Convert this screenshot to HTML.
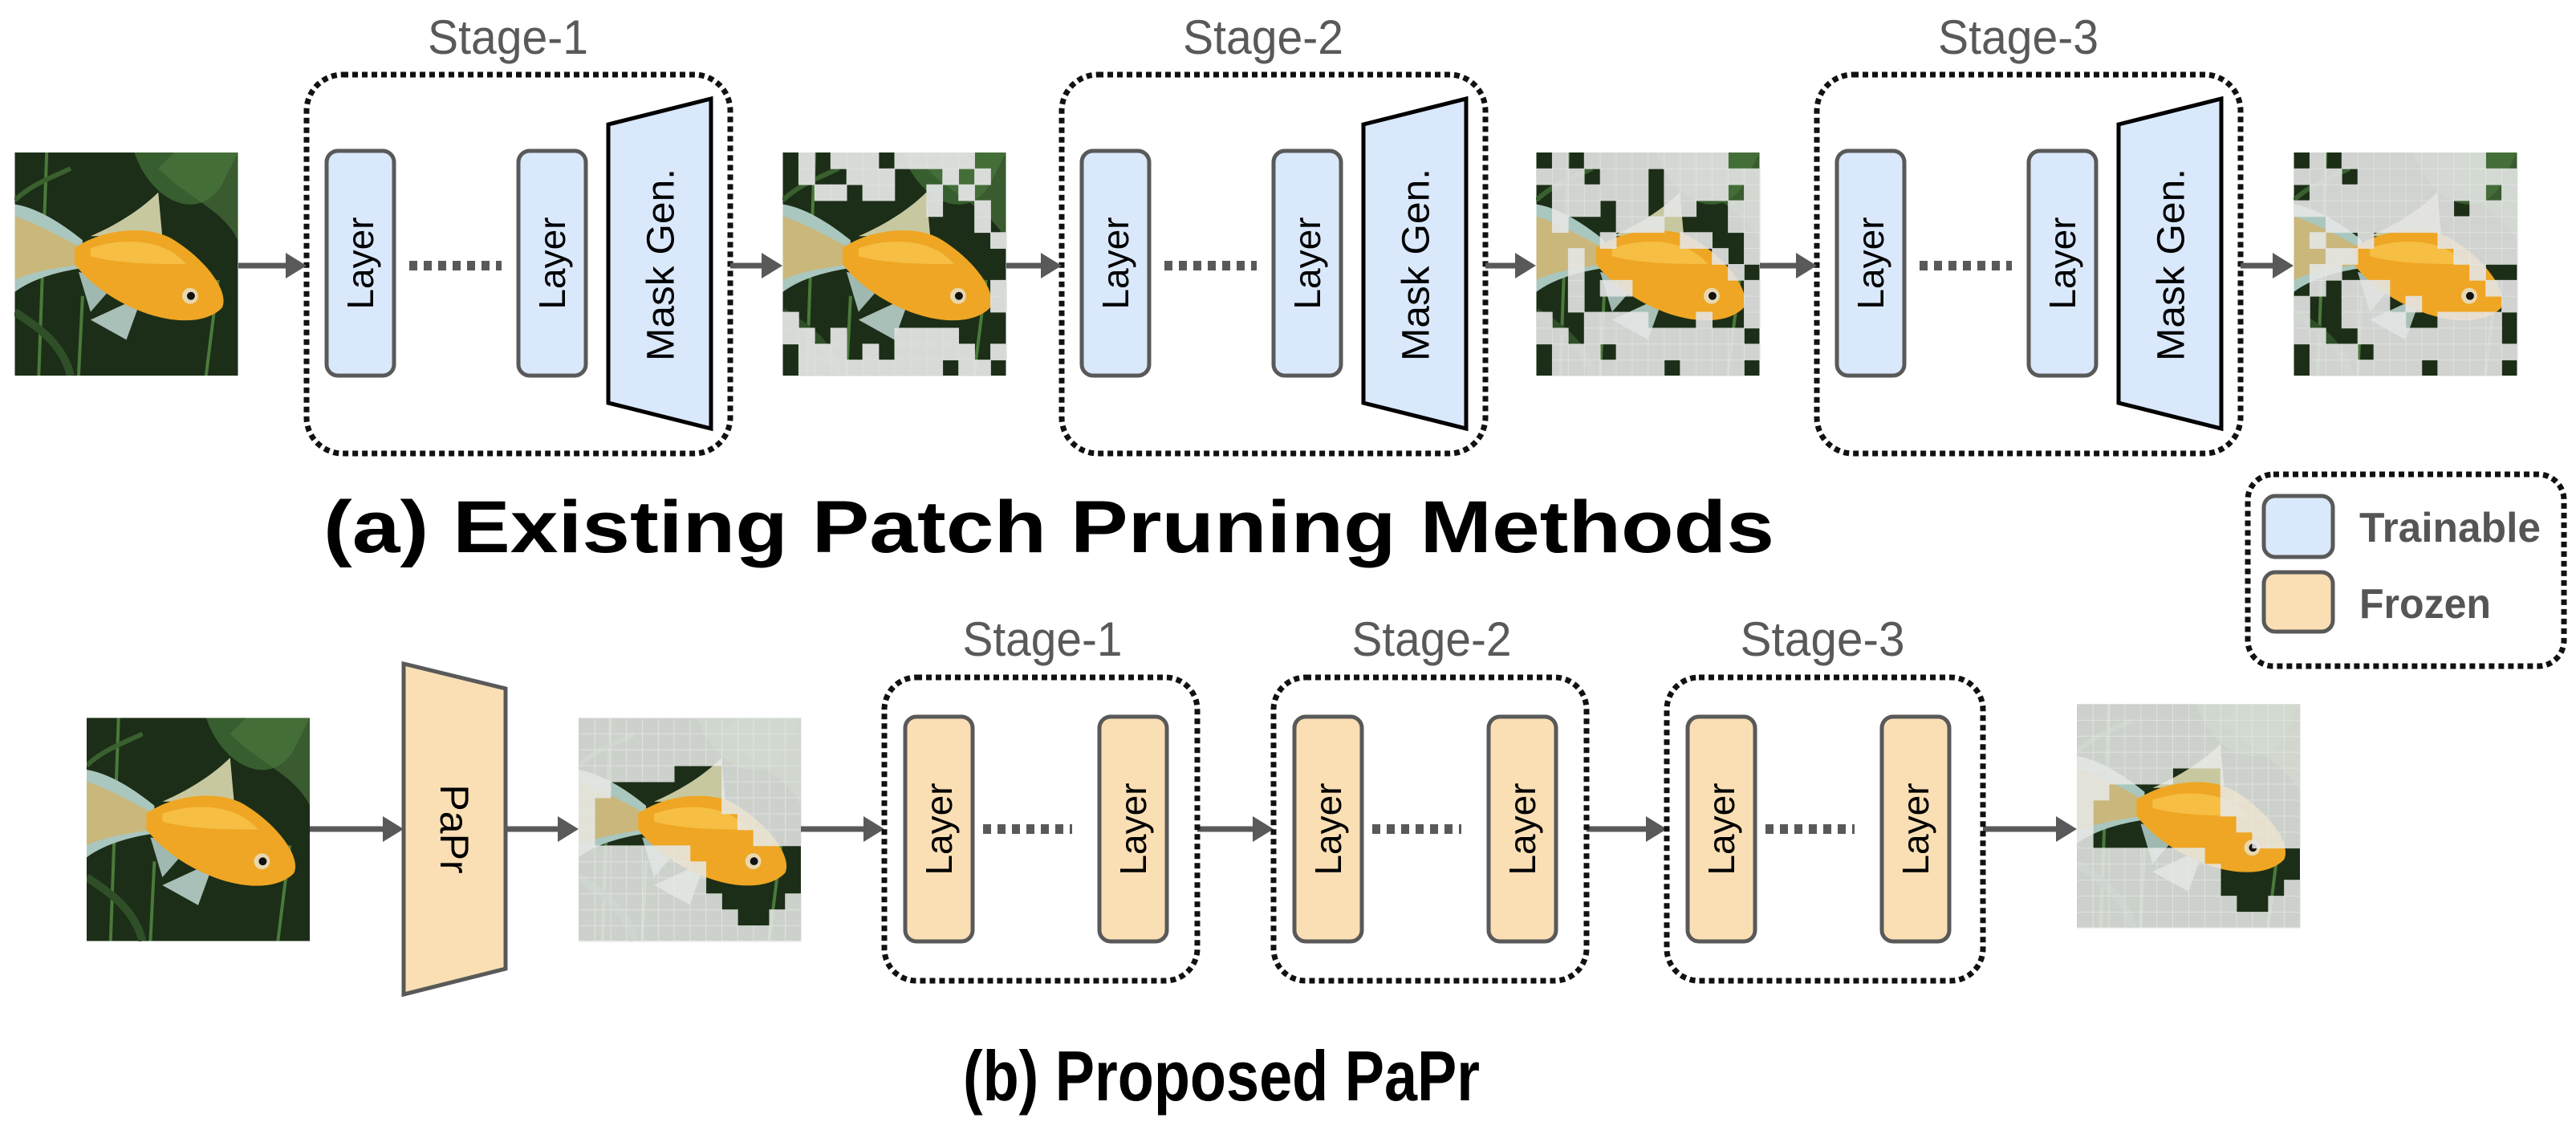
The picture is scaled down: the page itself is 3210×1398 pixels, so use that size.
<!DOCTYPE html>
<html><head><meta charset="utf-8">
<style>
html,body{margin:0;padding:0;background:#fff;}
svg{display:block;}
text{font-family:"Liberation Sans",Arial,sans-serif;}
</style></head>
<body>
<svg id="s" width="3210" height="1398" viewBox="0 0 3210 1398" xmlns="http://www.w3.org/2000/svg">
<defs>
  <symbol id="fish" viewBox="0 0 280 280">
    <rect width="280" height="280" fill="#1c2e17"/>
    <path d="M150 0 C170 60 230 90 260 40 L280 0 Z" fill="#3f6a36" opacity="0.8"/>
    <path d="M180 20 C220 60 260 70 280 110 L280 0 L200 0Z" fill="#4d7a40" opacity="0.6"/>
    <path d="M30 280 L40 0" stroke="#4a7a3a" stroke-width="4"/>
    <path d="M80 280 L85 180" stroke="#4a7a3a" stroke-width="4"/>
    <path d="M240 280 L255 160" stroke="#4a7a3a" stroke-width="4"/>
    <path d="M0 60 C20 40 50 30 70 20" stroke="#3a6030" stroke-width="6" fill="none"/>
    <path d="M0 200 C30 220 60 240 70 280" stroke="#2f4f28" stroke-width="10" fill="none"/>
    <path d="M0 65 C30 70 60 90 85 110 L85 145 C50 150 20 160 0 175 Z" fill="#a9c7bf"/>
    <path d="M0 80 C30 90 55 105 85 120 L85 140 C50 145 20 150 0 160 Z" fill="#d8b060" opacity="0.7"/>
    <path d="M95 105 C130 90 160 70 180 50 L185 105 Z" fill="#c8c8a0"/>
    <path d="M80 150 L130 160 L95 200 Z" fill="#9fb9b0"/>
    <path d="M95 210 L160 180 L140 235 Z" fill="#a8c0b8"/>
    <path d="M75 120 C110 95 170 90 200 110 C240 135 270 175 260 195 C240 215 200 215 160 200 C120 185 90 160 75 140 Z" fill="#eea624"/>
    <path d="M95 120 C140 105 190 110 215 140 C180 140 130 140 95 130Z" fill="#f7c44a" opacity="0.8"/>
    <circle cx="220" cy="180" r="10" fill="#e8d8b0"/>
    <circle cx="221" cy="180" r="5" fill="#111"/>
  </symbol>
</defs>

<g id="imgs"></g>

<g fill="none" stroke="#111" stroke-width="7" stroke-dasharray="7 5">
  <rect x="382" y="93" width="528" height="472" rx="45"/>
  <rect x="1323" y="93" width="528" height="472" rx="45"/>
  <rect x="2264" y="93" width="528" height="472" rx="45"/>
</g>

<g font-size="60" fill="#595959" text-anchor="middle">
  <text x="633" y="67" textLength="200" lengthAdjust="spacingAndGlyphs">Stage-1</text>
  <text x="1574" y="67" textLength="200" lengthAdjust="spacingAndGlyphs">Stage-2</text>
  <text x="2515" y="67" textLength="200" lengthAdjust="spacingAndGlyphs">Stage-3</text>
</g>

<g id="topstages"></g>
<g id="arrows" stroke="#595959" stroke-width="7" fill="#595959"></g>

<text x="1307" y="688" font-size="92" font-weight="bold" text-anchor="middle" textLength="1808" lengthAdjust="spacingAndGlyphs" fill="#000">(a) Existing Patch Pruning Methods</text>

<rect x="2801" y="591" width="394" height="239" rx="32" fill="none" stroke="#111" stroke-width="7" stroke-dasharray="7 5"/>
<rect x="2821" y="618" width="86" height="76" rx="14" fill="#dae8fc" stroke="#595959" stroke-width="5"/>
<rect x="2821" y="713" width="86" height="74" rx="14" fill="#fadfb5" stroke="#595959" stroke-width="5"/>
<text x="2940" y="675" font-size="52" font-weight="bold" fill="#555" textLength="226" lengthAdjust="spacingAndGlyphs">Trainable</text>
<text x="2940" y="770" font-size="52" font-weight="bold" fill="#555" textLength="164" lengthAdjust="spacingAndGlyphs">Frozen</text>

<path d="M503 827 L630 858 L630 1207 L503 1239 Z" fill="#fadfb5" stroke="#595959" stroke-width="5"/>
<text transform="translate(566,1033) rotate(90)" font-size="50" text-anchor="middle" dominant-baseline="central" fill="#000">PaPr</text>

<g fill="none" stroke="#111" stroke-width="7" stroke-dasharray="7 5">
  <rect x="1102" y="844" width="390" height="378" rx="40"/>
  <rect x="1587" y="844" width="390" height="378" rx="40"/>
  <rect x="2077" y="844" width="394" height="378" rx="40"/>
</g>
<g font-size="60" fill="#595959" text-anchor="middle">
  <text x="1299" y="817" textLength="199" lengthAdjust="spacingAndGlyphs">Stage-1</text>
  <text x="1784" y="817" textLength="199" lengthAdjust="spacingAndGlyphs">Stage-2</text>
  <text x="2271" y="817" textLength="205" lengthAdjust="spacingAndGlyphs">Stage-3</text>
</g>
<g id="botstages"></g>

<text x="1200" y="1371" font-size="88" font-weight="bold" textLength="644" lengthAdjust="spacingAndGlyphs" fill="#000">(b) Proposed PaPr</text>
</svg>

<script>
var NS="http://www.w3.org/2000/svg";
function el(parent,tag,attrs,txt){var e=document.createElementNS(NS,tag);for(var k in attrs)e.setAttribute(k,attrs[k]);if(txt)e.textContent=txt;parent.appendChild(e);return e;}
var imgs=document.getElementById('imgs');
function fishImg(x,y,w,h,grid,fill){
  el(imgs,'use',{href:'#fish',x:x,y:y,width:w,height:h,preserveAspectRatio:'none'});
  if(!grid)return;
  var cw=w/14,ch=h/14;
  for(var r=0;r<14;r++)for(var c=0;c<14;c++){
    if(grid[r][c]==='1') el(imgs,'rect',{x:(x+c*cw).toFixed(2),y:(y+r*ch).toFixed(2),width:(cw+0.8).toFixed(2),height:(ch+0.8).toFixed(2),fill:fill||'rgba(228,230,228,0.9)'});
  }
}
var g2=["01011101111100","01001110001010","00110110010100","00000000010010","00000000000010","00000000000001","00000000000000","00000000000000","00000000000001","00000000000001","10000000000000","11010001111000","01110101111101","01111111110110"];
var g3=["01011111111100","11101110111111","01111110111101","01110110110011","01000111000011","00001000011001","00100000000101","00100000000010","00101100000001","00100000000001","10011110001001","11011111111110","01110111111111","01111111011110"];
var g4=["01011111111100","11101111111111","01111111111101","11111111110111","00111111111111","01001000011111","00110000001111","01100000000100","01011100000011","10011101000001","10011110011110","11001111111110","01110111111111","01111111011110"];
function visGrid(rows){var g=[];for(var r=0;r<14;r++){var s='';for(var c=0;c<14;c++){var v=rows[r]&&c>=rows[r][0]&&c<=rows[r][1];s+=v?'0':'1';}g.push(s);}return g;}
var gb=visGrid({3:[6,8],4:[2,8],5:[1,8],6:[1,9],7:[1,10],8:[7,13],9:[8,13],10:[8,13],11:[9,12],12:[10,11]});
var gb2=visGrid({4:[6,8],5:[2,8],6:[1,8],7:[1,9],8:[1,10],9:[8,13],10:[9,13],11:[9,12],12:[10,11]});
fishImg(18,190,279,278);
fishImg(975,190,279,278,g2,'rgba(224,226,224,0.96)');
fishImg(1914,190,279,278,g3);
fishImg(2858,190,279,278,g4);
fishImg(108,894,278,279);
fishImg(721,894,277,279,gb,'rgba(230,232,230,0.88)');
fishImg(2588,877,278,279,gb2,'rgba(230,232,230,0.88)');

var ts=document.getElementById('topstages');
[382,1323,2264].forEach(function(b){
  [b+25,b+264].forEach(function(lx){
    el(ts,'rect',{x:lx,y:188,width:84,height:280,rx:14,fill:'#dae8fc',stroke:'#595959','stroke-width':5});
    el(ts,'text',{transform:'translate('+(lx+42)+',328) rotate(-90)','font-size':46,'text-anchor':'middle','dominant-baseline':'central',fill:'#000'},'Layer');
  });
  el(ts,'line',{x1:b+128,y1:331,x2:b+243,y2:331,stroke:'#595959','stroke-width':12,'stroke-dasharray':'10 8'});
  el(ts,'path',{d:'M'+(b+376)+' 155 L'+(b+504)+' 123 L'+(b+504)+' 534 L'+(b+376)+' 502 Z',fill:'#dae8fc',stroke:'#000','stroke-width':5});
  el(ts,'text',{transform:'translate('+(b+442)+',330) rotate(-90)','font-size':48,'text-anchor':'middle','dominant-baseline':'central',fill:'#000',textLength:240,lengthAdjust:'spacingAndGlyphs'},'Mask Gen.');
});
var bs=document.getElementById('botstages');
[1102,1587,2077].forEach(function(b){
  [b+26,b+268].forEach(function(lx){
    el(bs,'rect',{x:lx,y:893,width:84,height:280,rx:14,fill:'#fadfb5',stroke:'#595959','stroke-width':5});
    el(bs,'text',{transform:'translate('+(lx+42)+',1033) rotate(-90)','font-size':46,'text-anchor':'middle','dominant-baseline':'central',fill:'#000'},'Layer');
  });
  el(bs,'line',{x1:b+123,y1:1033,x2:b+234,y2:1033,stroke:'#595959','stroke-width':12,'stroke-dasharray':'10 8'});
});
var ar=document.getElementById('arrows');
function arrow(x1,x2,y){
  el(ar,'line',{x1:x1,y1:y,x2:x2-22,y2:y});
  el(ar,'path',{d:'M'+(x2-26)+' '+(y-16)+' L'+x2+' '+y+' L'+(x2-26)+' '+(y+16)+' Z',stroke:'none'});
}
[[297,382],[910,975],[1254,1323],[1851,1914],[2193,2264],[2792,2858]].forEach(function(a){arrow(a[0],a[1],331);});
[[386,503],[630,721],[998,1102],[1492,1587],[1977,2077],[2471,2588]].forEach(function(a){arrow(a[0],a[1],1033);});
</script>
</body></html>
